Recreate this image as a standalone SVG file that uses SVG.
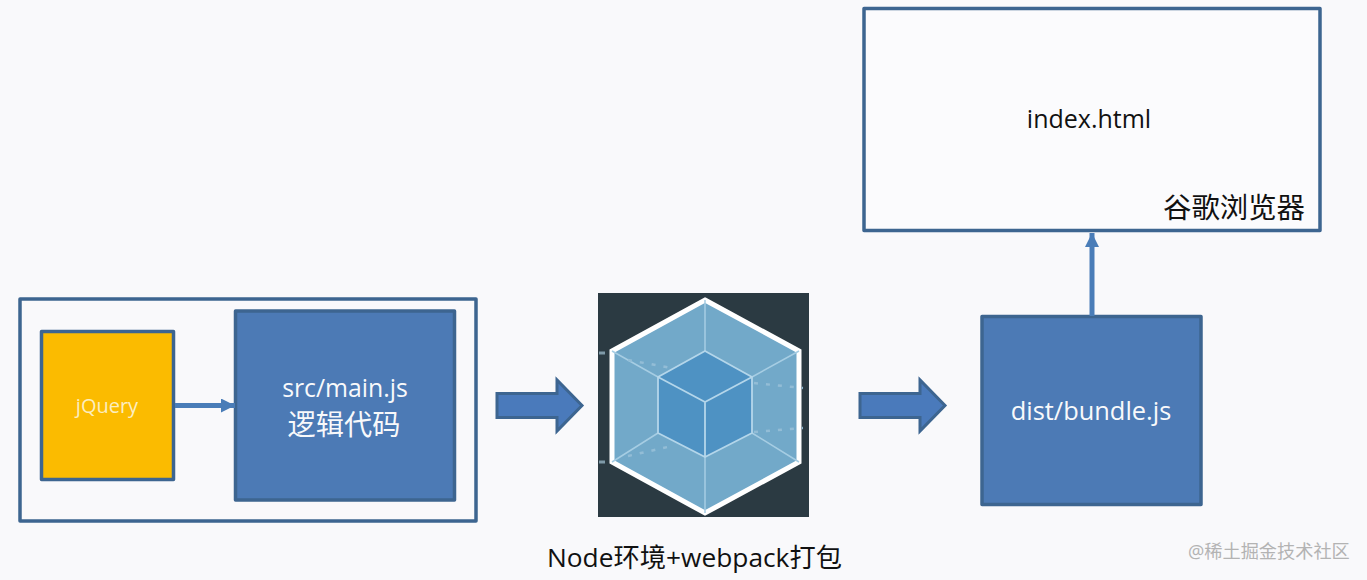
<svg xmlns="http://www.w3.org/2000/svg" width="1367" height="580" viewBox="0 0 1367 580">
<defs>
<marker id="ah" markerUnits="userSpaceOnUse" markerWidth="16" markerHeight="16" refX="14" refY="7" orient="auto"><path d="M0,0 L14,7 L0,14 Z" fill="#4a7db8"/></marker>
</defs>
<style>
.box{stroke:#3d6590;stroke-width:3.500;stroke-linejoin:round}
.blue{fill:#4c7ab5}
.t{font-family:"Open Sans","Noto Sans CJK SC",sans-serif}
.cjk{font-family:"Noto Sans CJK SC",sans-serif}
.w{fill:#f8f9fb}
.k{fill:#111}
.big{stroke:#3d6590;stroke-width:3;fill:#4a7abb}
</style>
<rect width="1367" height="580" fill="#f9f9fb"/>
<g id="group-left"><rect x="20" y="299" width="456" height="222" fill="none" class="box"/></g>
<g id="jquery"><rect x="41.500" y="331.500" width="132" height="148" fill="#fbbb00" class="box"/>
<text x="107" y="413" text-anchor="middle" font-size="20" fill="#fbeec0" class="t">jQuery</text></g>
<g id="main"><rect x="235.500" y="311" width="219" height="189" class="box blue"/>
<text x="345" y="397" text-anchor="middle" font-size="24.800" class="t w">src/main.js</text>
<text x="344" y="435" text-anchor="middle" font-size="28.200" class="cjk w">逻辑代码</text></g>
<g id="webpack">
<rect x="598" y="293" width="211" height="224" fill="#2b3a42"/>
<path d="M705,300 L799,351 L799,462 L705,513 L612,462 L612,351 Z" fill="#72a9c9" stroke="#fff" stroke-width="5"/>
<path d="M705,351 L752,377 L752,433 L705,457 L658,433 L658,377 Z" fill="#4e92c3"/>
<path d="M705,300 V351 M612,351 L658,377 M799,351 L752,377 M612,462 L658,433 M799,462 L752,433 M705,513 V457" stroke="#a6cde3" stroke-width="1.500" fill="none"/>
<path d="M705,351 L752,377 L752,433 L705,457 L658,433 L658,377 Z M658,377 L705,402 L752,377 M705,402 V457" stroke="#b4d6ea" stroke-width="1.800" fill="none"/>
<path d="M628,360 L672,368 M754,383 L803,388 M754,432 L803,428 M628,456 L672,446" stroke="#93bdd6" stroke-width="2.500" stroke-dasharray="4 8" fill="none"/>
<path d="M599,353 H605 M599,462 H605" stroke="#7f9aa8" stroke-width="3" fill="none"/>
</g>
<g id="webpack-label"><text x="694.500" y="567" text-anchor="middle" font-size="26.300" class="t k">Node环境+webpack打包</text></g>
<g id="bundle"><rect x="982" y="316.500" width="219" height="188" class="box blue"/>
<text x="1091" y="420" text-anchor="middle" font-size="25.400" class="t w">dist/bundle.js</text></g>
<g id="browser"><rect x="864" y="8.500" width="456" height="222" fill="#fbfbfd" class="box"/>
<text x="1089" y="128" text-anchor="middle" font-size="25" class="t k">index.html</text>
<text x="1305" y="218" text-anchor="end" font-size="28.400" class="cjk k">谷歌浏览器</text></g>
<g id="connectors">
<path d="M175,405.500 H235" stroke="#4a7db8" stroke-width="5" marker-end="url(#ah)" fill="none"/>
<path d="M1092,316 V233" stroke="#4a7db8" stroke-width="5" marker-end="url(#ah)" fill="none"/>
<path d="M497,393.500 H557 V380 L582,405.500 L557,431 V417.500 H497 Z" class="big"/>
<path d="M860,393.500 H920 V380 L945,405.500 L920,431 V417.500 H860 Z" class="big"/>
</g>
<g id="watermark"><text x="1188" y="558" font-size="18.200" fill="#b3b3b3" class="t">@稀土掘金技术社区</text></g>
</svg>
